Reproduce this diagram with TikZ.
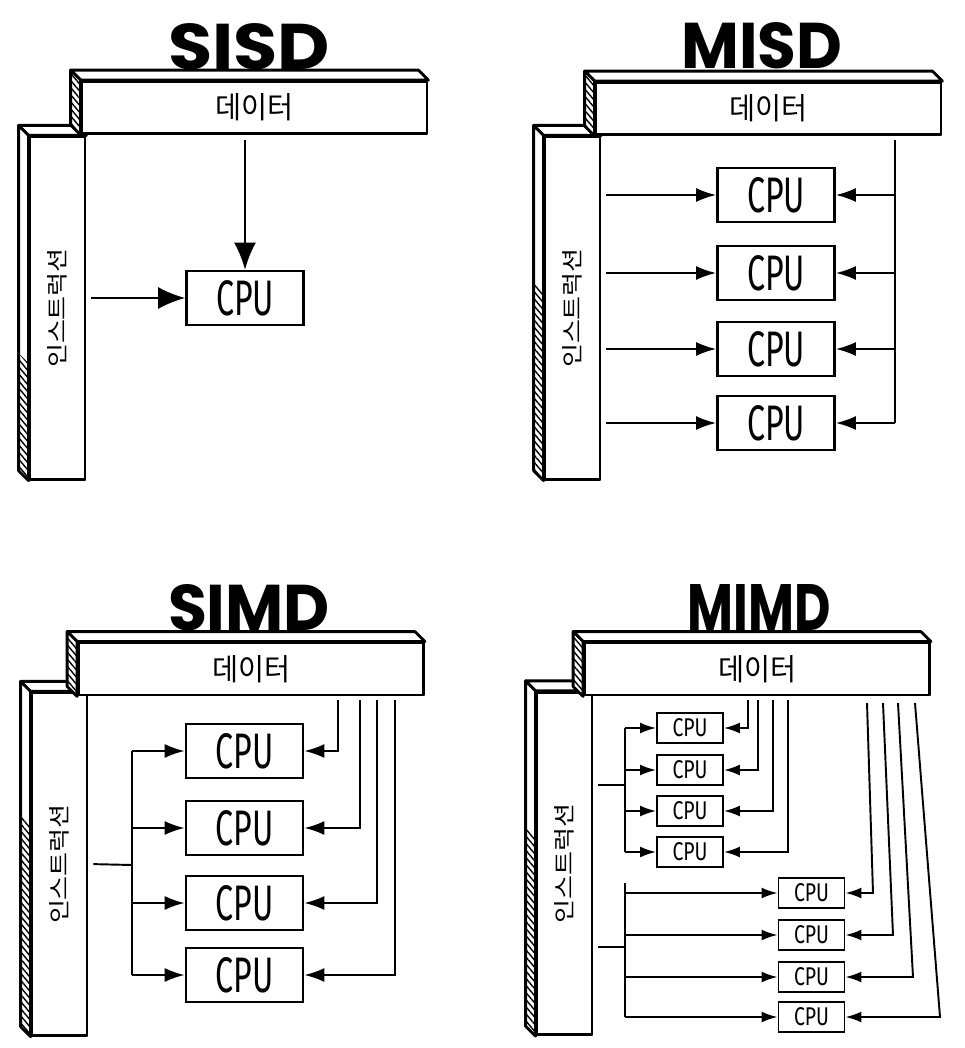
\documentclass[tikz,border=0pt]{standalone}
\usepackage{fontspec}
\usepackage{graphicx}
\setmainfont{Fira Sans}
\newfontfamily\krfont{Noto Sans CJK KR}
\newfontfamily\titlefont{Poppins}
\usetikzlibrary{positioning,arrows.meta,calc,patterns.meta}

% text of the boxes and bars
\newcommand{\bigcpu}{\resizebox{1.16cm}{0.7cm}{CPU}}
\newcommand{\smallcpu}{\resizebox{0.7cm}{0.36cm}{CPU}}
\newcommand{\datatext}{\resizebox{1.56cm}{0.5cm}{\krfont 데이터}}
\newcommand{\instrtext}{\resizebox{2.4cm}{0.36cm}{\krfont 인스트럭션}}
\newcommand{\flynntitle}[2]{\resizebox{#1}{0.92cm}{\titlefont\bfseries #2}}

% top and left face of a bar, #1 = node, #2 = where the hatching starts (0..1)
\newcommand{\barfaces}[2]{%
  \draw[barline,fill=white] ($(#1.north west)+(-10,-10)$) -- ($(#1.north east)+(-10,-10)$)
     -- (#1.north east) -- (#1.north west) -- cycle;
  \draw[barline,fill=white] ($(#1.north west)+(-10,-10)$) -- (#1.north west)
     -- (#1.south west) -- ($(#1.south west)+(-10,-10)$) -- cycle;
  \fill[pattern={Lines[angle=-50,distance=2.6pt,line width=0.8pt]}]
     ($(#1.north west)!#2!(#1.south west)+(-10,-10)$) -- ($(#1.north west)!#2!(#1.south west)$)
     -- (#1.south west) -- ($(#1.south west)+(-10,-10)$) -- cycle;
}

\tikzset{
  barline/.style={line width=1.6pt, line join=round},
  databar/.style={draw, barline, fill=white, minimum width=6.9cm, minimum height=1.04cm, inner sep=0pt},
  instrbar/.style={draw, barline, fill=white, minimum width=1.1cm, minimum height=6.85cm, inner sep=0pt},
  cpu/.style={draw, line width=1.6pt, minimum width=2.34cm, minimum height=1.08cm, inner sep=0pt},
  smallcpu/.style={draw, line width=1.1pt, minimum width=1.32cm, minimum height=0.6cm, inner sep=0pt},
  wire/.style={line width=1.1pt},
  bigarr/.style={wire, -{Latex[length=0.54cm,width=0.44cm]}},
  arr/.style={wire, -{Latex[length=0.4cm,width=0.28cm]}},
  smallarr/.style={wire, -{Latex[length=0.32cm,width=0.22cm]}}
}

\begin{document}
\begin{tikzpicture}[x=0.02cm,y=-0.02cm]
\useasboundingbox (0,0) rectangle (964,1048);

%%%% SISD
\node[inner sep=0pt] (t1) at (249,47) {\flynntitle{3.24cm}{SISD}};
\node[instrbar] (i1) at (57.5,308) {};
\barfaces{i1}{0.66}
\node[instrbar] at (i1) {};
\node[rotate=90] (n1) at (i1) {\instrtext};
\node[databar] (d1) at (254.5,107.5) {};
\barfaces{d1}{0}
\node[databar] at (d1) {\datatext};

\node[cpu] (c1) at (245,298) {\bigcpu};
\draw[bigarr, shorten <=0.1cm] (c1 |- d1.south) -- (c1.north);
\draw[bigarr, shorten <=0.1cm] (i1.east |- c1) -- (c1.west);

%%%% MISD
\node (t2) at (762,46) {\flynntitle{3.22cm}{MISD}};
\node[instrbar] (i2) at (572.5,308) {};
\barfaces{i2}{0.45}
\node[instrbar] at (i2) {};
\node[rotate=90] (n2) at (i2) {\instrtext};
\node[databar] (d2) at (768.5,108.5) {};
\barfaces{d2}{0}
\node[databar] at (d2) {\datatext};

\foreach \i/\y in {1/195,2/273,3/349,4/423}{
  \node[cpu] (c2\i) at (776,\y) {\bigcpu};
  \draw[arr, shorten <=0.1cm] (i2.east |- c2\i) -- (c2\i.west);
}
\coordinate (mbus) at (895,140);
\draw[wire] (mbus) -- (mbus |- c24);
\foreach \i in {1,2,3,4}
  \draw[arr] (mbus |- c2\i) -- (c2\i.east);

%%%% SIMD
\node (t3) at (249,608) {\flynntitle{3.24cm}{SIMD}};
\node[instrbar] (i3) at (59.5,864) {};
\barfaces{i3}{0.38}
\node[instrbar] at (i3) {};
\node[rotate=90] (n3) at (i3) {\instrtext};
\node[databar] (d3) at (251,669) {};
\barfaces{d3}{0}
\node[databar] at (d3) {\datatext};

\coordinate (sfork) at (132,865);
\draw[wire, shorten <=0.1cm] (i3.east) -- (sfork);
\foreach \i/\y/\x in {1/751/338,2/828/360,3/903/377,4/975/395}{
  \node[cpu] (c3\i) at (244.5,\y) {\bigcpu};
  \coordinate (s\i) at (\x,700);
  \draw[arr] (s\i) |- (c3\i.east);
  \draw[arr] (sfork |- c3\i) -- (c3\i.west);
}
\draw[wire] (sfork |- c31) -- (sfork |- c34);

%%%% MIMD
\node (t4) at (759,607) {\flynntitle{2.86cm}{MIMD}};
\node[instrbar] (i4) at (564.5,863.5) {};
\barfaces{i4}{0.42}
\node[instrbar] at (i4) {};
\node[rotate=90] (n4) at (i4) {\instrtext};
\node[databar] (d4) at (757,669) {};
\barfaces{d4}{0}
\node[databar] at (d4) {\datatext};

% first group
\coordinate (fa) at (625,785);
\draw[wire, shorten <=0.1cm] (i4.east |- fa) -- (fa);
\foreach \i/\y/\x in {1/728/748,2/770/758,3/811/773,4/852/788}{
  \node[smallcpu] (ca\i) at (690,\y) {\smallcpu};
  \coordinate (ta\i) at (\x,700);
  \draw[smallarr] (ta\i) |- (ca\i.east);
  \draw[smallarr] (fa |- ca\i) -- (ca\i.west);
}
\draw[wire] (fa |- ca1) -- (fa |- ca4);

% second group
\coordinate (fb) at (625,947);
\draw[wire, shorten <=0.1cm] (i4.east |- fb) -- (fb);
\foreach \i/\y/\x/\xx in {1/893/867/873,2/935/883/893,3/977/898/913,4/1017/915/940}{
  \node[smallcpu] (cb\i) at (811.5,\y) {\smallcpu};
  \coordinate (tb\i) at (\x,703);
  \draw[smallarr] (tb\i) -- (\xx,\y) -- (cb\i.east);
  \draw[smallarr] (fb |- cb\i) -- (cb\i.west);
}
\draw[wire] ($(fb |- cb1)+(0,-10)$) -- (fb |- cb4);
\end{tikzpicture}
\end{document}
